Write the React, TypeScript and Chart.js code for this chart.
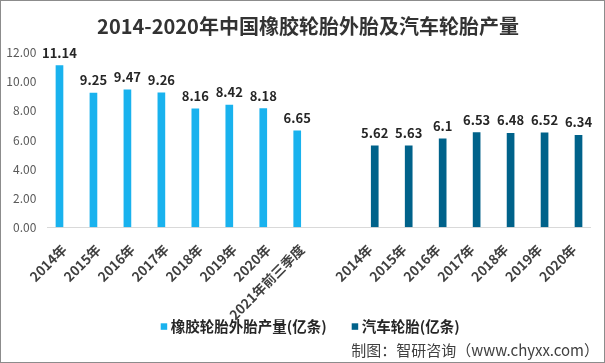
import React, { useEffect, useRef } from "react";
import { Chart, registerables } from "chart.js";

Chart.register(...registerables);

const chartTitle = "2014-2020年中国橡胶轮胎外胎及汽车轮胎产量";
const sourceText = "制图：智研咨询（www.chyxx.com）";
const categories = [
  "2014年", "2015年", "2016年", "2017年", "2018年", "2019年", "2020年", "2021年前三季度",
  "",
  "2014年", "2015年", "2016年", "2017年", "2018年", "2019年", "2020年",
];
const seriesNames = ["橡胶轮胎外胎产量(亿条)", "汽车轮胎(亿条)"];
const rubberTireOutput = [11.14, 9.25, 9.47, 9.26, 8.16, 8.42, 8.18, 6.65, null, null, null, null, null, null, null, null];
const carTireOutput = [null, null, null, null, null, null, null, null, null, 5.62, 5.63, 6.1, 6.53, 6.48, 6.52, 6.34];
const yMin = 0;
const yMax = 12;
const yStep = 2;

const colors = ["#19B2EE", "#00628A"];
const FONT = "'Noto Sans CJK SC', 'Noto Sans', sans-serif";

const decorPlugin = {
  id: "decor",
  afterDatasetsDraw(chart: any) {
    const ctx = chart.ctx;
    ctx.save();
    ctx.font = `bold 13px ${FONT}`;
    ctx.fillStyle = "#262626";
    ctx.textAlign = "center";
    ctx.textBaseline = "middle";
    chart.data.datasets.forEach((ds: any, i: number) => {
      const meta = chart.getDatasetMeta(i);
      meta.data.forEach((el: any, j: number) => {
        const v = ds.data[j];
        if (v === null || v === undefined) return;
        ctx.fillText(String(v), el.x, el.y - 12.5);
      });
    });
    ctx.restore();
  },
  afterDraw(chart: any) {
    const ctx = chart.ctx;
    ctx.save();
    // title
    ctx.font = `bold 20px ${FONT}`;
    ctx.fillStyle = "#333333";
    ctx.textAlign = "center";
    ctx.textBaseline = "middle";
    ctx.fillText(chartTitle, 307, 25);
    // legend
    ctx.font = `bold 14.5px ${FONT}`;
    ctx.textAlign = "left";
    const legendX = [159.7, 350.7];
    chart.data.datasets.forEach((ds: any, i: number) => {
      ctx.fillStyle = colors[i];
      ctx.fillRect(legendX[i], 322.3, 6.5, 6.5);
      ctx.fillStyle = "#262626";
      ctx.fillText(ds.label, legendX[i] + 10, 325.7);
    });
    // source
    ctx.font = `15px ${FONT}`;
    ctx.fillStyle = "#404040";
    ctx.textAlign = "right";
    ctx.fillText(sourceText, 598, 349);
    ctx.restore();
  },
};

export default function App() {
  const ref = useRef<HTMLCanvasElement | null>(null);

  useEffect(() => {
    document.body.style.margin = "0";
    const canvas = ref.current;
    if (!canvas) return;
    const chart = new Chart(canvas, {
      type: "bar",
      data: {
        labels: categories,
        datasets: [
          {
            label: seriesNames[0],
            data: rubberTireOutput,
            backgroundColor: colors[0],
            categoryPercentage: 0.565,
            barPercentage: 0.8,
          },
          {
            label: seriesNames[1],
            data: carTireOutput,
            backgroundColor: colors[1],
            categoryPercentage: 0.565,
            barPercentage: 0.8,
          },
        ],
      },
      options: {
        responsive: false,
        animation: false,
        devicePixelRatio: 1,
        layout: { padding: { top: 51.7, right: 13.3, bottom: 0, left: 0 } },
        plugins: {
          legend: { display: false },
          title: { display: false },
          tooltip: { enabled: false },
        },
        scales: {
          x: {
            grid: { display: false },
            border: { display: true, color: "#D9D9D9", width: 1 },
            ticks: {
              autoSkip: false,
              maxRotation: 45,
              minRotation: 45,
              padding: 6,
              color: "#404040",
              font: { family: FONT, size: 13.5, weight: "bold" },
            },
            afterFit(scale: any) {
              scale.height = 134.7;
            },
          },
          y: {
            min: yMin,
            max: yMax,
            grid: { display: false, drawTicks: false },
            border: { display: false },
            ticks: {
              stepSize: yStep,
              padding: 11,
              color: "#595959",
              font: { family: FONT, size: 12 },
              callback: (v: any) => Number(v).toFixed(2),
            },
            afterFit(scale: any) {
              scale.width = 46.3;
            },
          },
        },
      },
      plugins: [decorPlugin],
    });
    return () => chart.destroy();
  }, []);

  return (
    <div
      style={{
        width: 605,
        height: 363,
        boxSizing: "border-box",
        border: "1px solid #8C8C8C",
        background: "#FFFFFF",
        overflow: "hidden",
      }}
    >
      <canvas ref={ref} width={603} height={361} style={{ display: "block", width: 603, height: 361 }} />
    </div>
  );
}
